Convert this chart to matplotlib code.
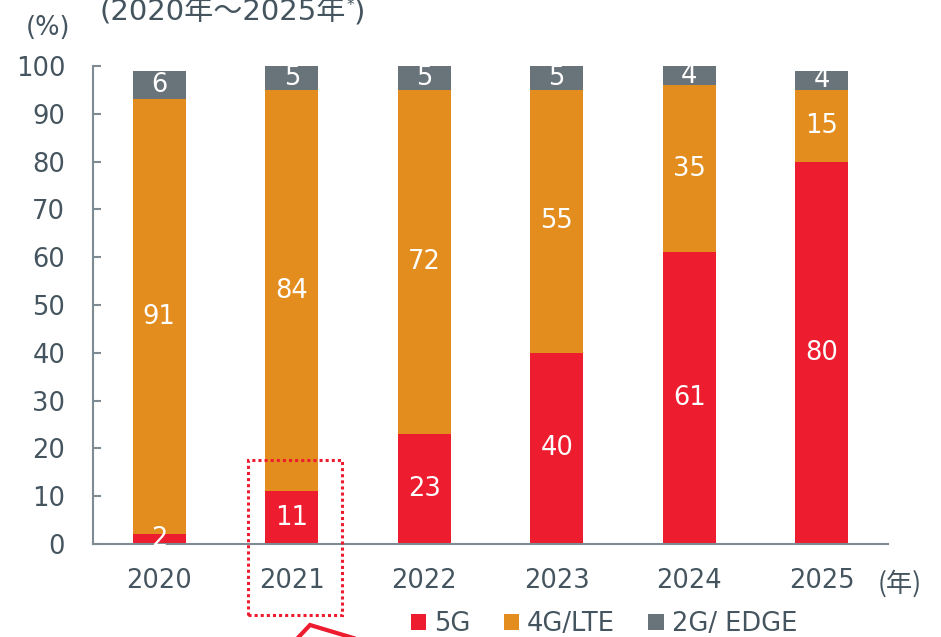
import numpy as np
import matplotlib
matplotlib.use("Agg")
import matplotlib.pyplot as plt
from matplotlib.patches import Rectangle
from matplotlib.lines import Line2D

# data
years = ["2020", "2021", "2022", "2023", "2024", "2025"]
share_5g = [2, 11, 23, 40, 61, 80]
share_4g = [91, 84, 72, 55, 35, 15]
share_2g = [6, 5, 5, 5, 4, 4]
series_names = ["5G", "4G/LTE", "2G/ EDGE"]
y_ticks = [0, 10, 20, 30, 40, 50, 60, 70, 80, 90, 100]

RED = "#ED1C2E"
ORANGE = "#E38D1E"
GREY = "#69737A"
TEXT = "#45555F"
AXIS = "#7F8B92"
FS = 18.5

plt.rcParams["font.family"] = ["DejaVu Sans", "Noto Sans CJK JP"]

W, H = 941, 637
fig = plt.figure(figsize=(W / 100, H / 100), dpi=100)
ax = fig.add_axes([93 / W, 1 - 544 / H, (888 - 93) / W, (544 - 66) / H])

x = np.arange(len(years))
width = 0.4
bottom = np.zeros(len(years))
for vals, col, name in zip([share_5g, share_4g, share_2g], [RED, ORANGE, GREY], series_names):
    vals = np.array(vals, dtype=float)
    ax.bar(x, vals, width, bottom=bottom, color=col, label=name, linewidth=0)
    for xi, b, v in zip(x, bottom, vals):
        ax.text(xi, b + v / 2, f"{int(v)}", ha="center", va="center",
                color="white", fontsize=FS)
    bottom += vals

ax.set_xlim(-0.5, len(years) - 0.5)
ax.set_ylim(0, 100)
ax.set_yticks(y_ticks)
ax.set_xticks(x)
ax.set_xticklabels(years)

for side in ["top", "right"]:
    ax.spines[side].set_visible(False)
for side in ["left", "bottom"]:
    ax.spines[side].set_color(AXIS)
    ax.spines[side].set_linewidth(1.5)

ax.tick_params(axis="y", direction="in", length=6, width=1.5, color=AXIS,
               labelsize=FS, labelcolor=TEXT, pad=20)
ax.tick_params(axis="x", length=0, labelsize=FS, labelcolor=TEXT, pad=17)

# unit labels
fig.text(48 / W, 1 - 35 / H, "(%)", ha="center", va="baseline", fontsize=FS, color=TEXT)
fig.text(900 / W, 1 - 592 / H, "(年)", ha="center", va="baseline", fontsize=19,
         color=TEXT, family=["Noto Sans CJK JP"])

# title (cut at the top edge)
fig.canvas.draw()
r = fig.canvas.get_renderer()
t1 = fig.text(100 / W, 1 - 21 / H, "(2020年～2025年", ha="left", va="baseline",
              fontsize=21, color=TEXT)
bb = t1.get_window_extent(r)
t2 = fig.text(bb.x1 / W, 1 - 10 / H, "*", ha="left", va="baseline", fontsize=11, color=TEXT)
bb2 = t2.get_window_extent(r)
fig.text(bb2.x1 / W, 1 - 21 / H, ")", ha="left", va="baseline", fontsize=21, color=TEXT)

# legend
ax.legend(loc="center", bbox_to_anchor=(604 / W, 1 - 624 / H),
          bbox_transform=fig.transFigure, ncol=3, frameon=False,
          fontsize=FS, labelcolor=TEXT, handlelength=0.6, handleheight=0.6,
          handletextpad=0.3, columnspacing=1.3, borderpad=0)

# dotted highlight box around 2021
fig.patches.append(Rectangle((248 / W, 1 - 615 / H), (342 - 248) / W, (615 - 460) / H,
                             transform=fig.transFigure, fill=False, edgecolor=RED,
                             linewidth=2.2, linestyle=(0, (1, 1))))

# partial arrow at bottom
fig.lines.append(Line2D([294 / W, 310 / W, 360 / W],
                        [1 - 642 / H, 1 - 625 / H, 1 - 640 / H],
                        transform=fig.transFigure, color=RED, linewidth=3,
                        solid_joinstyle="miter"))

fig.savefig("out.png", dpi=100)
